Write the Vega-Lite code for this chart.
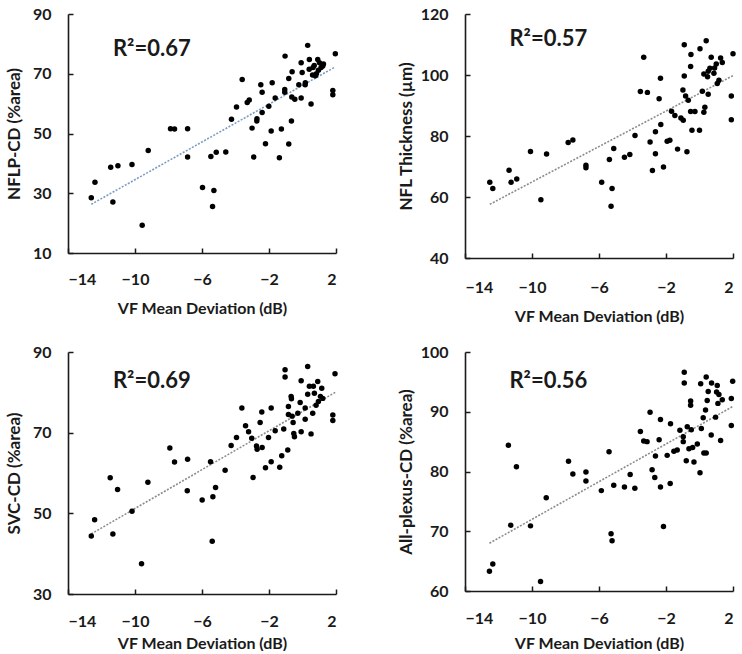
{
  "$schema": "https://vega.github.io/schema/vega-lite/v6.json",
  "background": "white",
  "padding": {"left": 5, "top": 6, "right": 2, "bottom": 0},
  "align": "each",
  "spacing": {"column": 57, "row": 20},
  "columns": 2,
  "config": {
    "view": {"stroke": null},
    "axis": {
      "grid": false,
      "domainColor": "#1a1a1a",
      "domainWidth": 1.6,
      "tickColor": "#1a1a1a",
      "tickWidth": 1.5,
      "tickSize": -5,
      "labelFont": "Lato",
      "labelFontWeight": "bold",
      "labelFontSize": 16,
      "labelColor": "#1a1a1a",
      "titleFont": "Lato",
      "titleFontWeight": "bold",
      "titleFontSize": 16,
      "titleColor": "#1a1a1a"
    },
    "axisY": {"labelPadding": 22, "titleFontSize": 17}
  },
  "datasets": {
    "p1": [
      {"md": -12.61, "v": 28.5}, {"md": -12.39, "v": 33.7}, {"md": -11.45, "v": 38.7}, {"md": -11.32, "v": 27.1},
      {"md": -11.02, "v": 39.2}, {"md": -10.18, "v": 39.6}, {"md": -9.21, "v": 44.3}, {"md": -9.57, "v": 19.3},
      {"md": -7.88, "v": 51.6}, {"md": -7.64, "v": 51.5}, {"md": -6.86, "v": 51.6}, {"md": -6.86, "v": 42.1},
      {"md": -5.97, "v": 31.9}, {"md": -5.47, "v": 42.3}, {"md": -5.29, "v": 30.9}, {"md": -5.37, "v": 25.6},
      {"md": -5.15, "v": 43.7}, {"md": -4.58, "v": 43.8}, {"md": -4.24, "v": 54.8}, {"md": -3.94, "v": 58.9},
      {"md": -3.6, "v": 68.1}, {"md": -3.3, "v": 60.4}, {"md": -3.18, "v": 61.2}, {"md": -3.01, "v": 51.8},
      {"md": -2.91, "v": 42.1}, {"md": -2.73, "v": 54.2}, {"md": -2.72, "v": 54.9}, {"md": -2.49, "v": 66.3},
      {"md": -2.41, "v": 63.8}, {"md": -2.41, "v": 57.0}, {"md": -2.21, "v": 46.6}, {"md": -2.01, "v": 59.1},
      {"md": -1.87, "v": 50.8}, {"md": -1.81, "v": 67.0}, {"md": -1.63, "v": 61.9}, {"md": -1.38, "v": 41.9},
      {"md": -1.26, "v": 51.5}, {"md": -1.04, "v": 75.9}, {"md": -1.06, "v": 64.7}, {"md": -1.06, "v": 63.8},
      {"md": -0.82, "v": 68.4}, {"md": -0.82, "v": 46.5}, {"md": -0.66, "v": 54.2}, {"md": -0.62, "v": 70.7},
      {"md": -0.64, "v": 62.2}, {"md": -0.46, "v": 61.5}, {"md": -0.22, "v": 66.3}, {"md": -0.08, "v": 73.7},
      {"md": -0.08, "v": 61.9}, {"md": -0.02, "v": 70.4}, {"md": 0.16, "v": 66.3}, {"md": 0.17, "v": 67.0},
      {"md": 0.31, "v": 79.5}, {"md": 0.41, "v": 74.8}, {"md": 0.51, "v": 59.9}, {"md": 0.63, "v": 72.1},
      {"md": 0.83, "v": 70.0}, {"md": 0.91, "v": 74.8}, {"md": 1.01, "v": 73.7}, {"md": 1.11, "v": 72.1},
      {"md": 1.21, "v": 72.6}, {"md": 0.77, "v": 69.3}, {"md": 1.81, "v": 64.4}, {"md": 1.81, "v": 63.0},
      {"md": 1.96, "v": 76.7}, {"md": 0.4, "v": 71.5}, {"md": 0.7, "v": 72.8}, {"md": 0.95, "v": 71.2},
      {"md": 0.6, "v": 69.6}, {"md": 1.25, "v": 73.3}
    ],
    "p2": [
      {"md": -12.52, "v": 64.8}, {"md": -12.34, "v": 62.8}, {"md": -11.37, "v": 68.8}, {"md": -11.25, "v": 64.8},
      {"md": -10.91, "v": 65.9}, {"md": -10.09, "v": 74.9}, {"md": -9.47, "v": 59.1}, {"md": -9.13, "v": 74.1},
      {"md": -7.84, "v": 77.9}, {"md": -7.56, "v": 78.7}, {"md": -6.78, "v": 70.4}, {"md": -6.78, "v": 69.6},
      {"md": -5.84, "v": 64.8}, {"md": -5.38, "v": 72.3}, {"md": -5.22, "v": 62.8}, {"md": -5.28, "v": 57.0},
      {"md": -5.12, "v": 75.9}, {"md": -4.48, "v": 73.0}, {"md": -4.16, "v": 73.9}, {"md": -3.85, "v": 80.2},
      {"md": -3.53, "v": 94.6}, {"md": -3.33, "v": 105.8}, {"md": -3.11, "v": 94.3}, {"md": -2.95, "v": 78.0},
      {"md": -2.81, "v": 68.7}, {"md": -2.63, "v": 81.4}, {"md": -2.63, "v": 74.2}, {"md": -2.41, "v": 92.2},
      {"md": -2.33, "v": 98.9}, {"md": -2.31, "v": 83.8}, {"md": -2.15, "v": 69.8}, {"md": -1.93, "v": 78.3},
      {"md": -1.77, "v": 78.6}, {"md": -1.67, "v": 88.1}, {"md": -1.47, "v": 86.7}, {"md": -1.31, "v": 75.7},
      {"md": -1.11, "v": 85.9}, {"md": -0.97, "v": 85.2}, {"md": -0.91, "v": 109.9}, {"md": -0.91, "v": 99.7},
      {"md": -0.99, "v": 95.1}, {"md": -0.83, "v": 93.1}, {"md": -0.75, "v": 74.8}, {"md": -0.67, "v": 91.7},
      {"md": -0.53, "v": 88.0}, {"md": -0.51, "v": 106.7}, {"md": -0.53, "v": 102.8}, {"md": -0.45, "v": 81.9},
      {"md": -0.27, "v": 88.0}, {"md": 0.0, "v": 81.9}, {"md": 0.03, "v": 108.6}, {"md": 0.17, "v": 94.7},
      {"md": 0.26, "v": 87.8}, {"md": 0.32, "v": 89.4}, {"md": 0.26, "v": 100.3}, {"md": 0.4, "v": 111.2},
      {"md": 0.52, "v": 101.2}, {"md": 0.52, "v": 93.7}, {"md": 0.62, "v": 102.2}, {"md": 0.7, "v": 105.8},
      {"md": 0.86, "v": 100.6}, {"md": 1.0, "v": 103.6}, {"md": 1.06, "v": 97.2}, {"md": 1.16, "v": 98.3},
      {"md": 1.26, "v": 105.6}, {"md": 1.36, "v": 104.1}, {"md": 0.9, "v": 102.3}, {"md": 1.9, "v": 93.1},
      {"md": 1.9, "v": 85.3}, {"md": 2.0, "v": 107.0}, {"md": 0.48, "v": 99.4}
    ],
    "p3": [
      {"md": -12.61, "v": 44.4}, {"md": -12.41, "v": 48.4}, {"md": -11.48, "v": 58.8}, {"md": -11.32, "v": 44.9},
      {"md": -11.04, "v": 55.9}, {"md": -10.18, "v": 50.5}, {"md": -9.61, "v": 37.5}, {"md": -9.23, "v": 57.7},
      {"md": -7.92, "v": 66.2}, {"md": -7.64, "v": 62.7}, {"md": -6.86, "v": 63.4}, {"md": -6.88, "v": 55.6},
      {"md": -5.99, "v": 53.3}, {"md": -5.49, "v": 62.8}, {"md": -5.35, "v": 54.1}, {"md": -5.19, "v": 56.4},
      {"md": -5.39, "v": 43.1}, {"md": -4.62, "v": 60.7}, {"md": -4.26, "v": 66.8}, {"md": -3.94, "v": 68.8},
      {"md": -3.62, "v": 76.1}, {"md": -3.4, "v": 71.7}, {"md": -3.22, "v": 70.2}, {"md": -3.03, "v": 68.6},
      {"md": -2.95, "v": 58.9}, {"md": -2.75, "v": 66.7}, {"md": -2.71, "v": 65.9}, {"md": -2.53, "v": 72.5},
      {"md": -2.43, "v": 75.1}, {"md": -2.41, "v": 66.3}, {"md": -2.21, "v": 61.3}, {"md": -2.03, "v": 68.8},
      {"md": -1.87, "v": 76.1}, {"md": -1.87, "v": 62.8}, {"md": -1.63, "v": 70.5}, {"md": -1.36, "v": 61.4},
      {"md": -1.24, "v": 64.3}, {"md": -1.04, "v": 85.6}, {"md": -1.04, "v": 83.8}, {"md": -1.12, "v": 70.9},
      {"md": -0.88, "v": 65.7}, {"md": -0.84, "v": 76.5}, {"md": -0.84, "v": 74.5}, {"md": -0.68, "v": 79.0},
      {"md": -0.66, "v": 78.4}, {"md": -0.62, "v": 74.1}, {"md": -0.56, "v": 72.5}, {"md": -0.52, "v": 69.8},
      {"md": -0.48, "v": 69.0}, {"md": -0.28, "v": 74.8}, {"md": -0.14, "v": 77.5}, {"md": -0.08, "v": 82.9},
      {"md": -0.08, "v": 70.2}, {"md": 0.16, "v": 76.1}, {"md": 0.16, "v": 73.3}, {"md": 0.31, "v": 86.4},
      {"md": 0.31, "v": 79.5}, {"md": 0.41, "v": 81.5}, {"md": 0.51, "v": 69.7}, {"md": 0.61, "v": 74.8},
      {"md": 0.65, "v": 81.5}, {"md": 0.81, "v": 76.8}, {"md": 0.91, "v": 82.7}, {"md": 0.95, "v": 77.7},
      {"md": 1.07, "v": 79.0}, {"md": 1.15, "v": 81.0}, {"md": 1.21, "v": 78.5}, {"md": 0.71, "v": 79.8},
      {"md": 1.81, "v": 74.4}, {"md": 1.81, "v": 73.0}, {"md": 1.94, "v": 84.6}
    ],
    "p4": [
      {"md": -12.54, "v": 63.3}, {"md": -12.34, "v": 64.5}, {"md": -11.41, "v": 84.4}, {"md": -11.27, "v": 71.0},
      {"md": -10.93, "v": 80.8}, {"md": -10.09, "v": 70.9}, {"md": -9.49, "v": 61.6}, {"md": -9.15, "v": 75.6},
      {"md": -7.82, "v": 81.7}, {"md": -7.56, "v": 79.6}, {"md": -6.78, "v": 79.9}, {"md": -6.78, "v": 78.4},
      {"md": -5.86, "v": 76.8}, {"md": -5.4, "v": 83.3}, {"md": -5.28, "v": 69.6}, {"md": -5.22, "v": 68.4},
      {"md": -5.12, "v": 77.7}, {"md": -4.48, "v": 77.4}, {"md": -4.14, "v": 79.5}, {"md": -3.86, "v": 77.2},
      {"md": -3.53, "v": 86.7}, {"md": -3.33, "v": 85.1}, {"md": -3.13, "v": 85.0}, {"md": -2.95, "v": 89.9},
      {"md": -2.83, "v": 80.3}, {"md": -2.67, "v": 79.0}, {"md": -2.63, "v": 82.6}, {"md": -2.41, "v": 85.3},
      {"md": -2.33, "v": 88.7}, {"md": -2.33, "v": 77.4}, {"md": -2.15, "v": 70.8}, {"md": -1.93, "v": 82.7},
      {"md": -1.73, "v": 88.0}, {"md": -1.75, "v": 78.0}, {"md": -1.53, "v": 83.4}, {"md": -1.33, "v": 83.6},
      {"md": -1.17, "v": 86.9}, {"md": -0.97, "v": 85.8}, {"md": -0.97, "v": 85.0}, {"md": -0.91, "v": 96.6},
      {"md": -0.91, "v": 94.8}, {"md": -0.79, "v": 81.8}, {"md": -0.73, "v": 87.5}, {"md": -0.63, "v": 83.8},
      {"md": -0.53, "v": 91.8}, {"md": -0.53, "v": 91.1}, {"md": -0.49, "v": 87.0}, {"md": -0.41, "v": 84.0},
      {"md": -0.33, "v": 81.6}, {"md": -0.13, "v": 84.6}, {"md": 0.03, "v": 79.8}, {"md": 0.07, "v": 94.7},
      {"md": 0.11, "v": 87.2}, {"md": 0.22, "v": 89.0}, {"md": 0.26, "v": 83.1}, {"md": 0.36, "v": 90.3},
      {"md": 0.4, "v": 95.8}, {"md": 0.4, "v": 83.1}, {"md": 0.46, "v": 91.9}, {"md": 0.52, "v": 93.4},
      {"md": 0.7, "v": 86.1}, {"md": 0.72, "v": 94.8}, {"md": 0.96, "v": 89.1}, {"md": 1.06, "v": 94.4},
      {"md": 1.1, "v": 91.4}, {"md": 1.16, "v": 92.9}, {"md": 1.26, "v": 85.2}, {"md": 1.36, "v": 92.0},
      {"md": 1.02, "v": 93.3}, {"md": 1.9, "v": 92.2}, {"md": 1.9, "v": 87.7}, {"md": 1.98, "v": 95.1}
    ],
    "t1": [{"md": -12.61, "v": 26.3}, {"md": 1.96, "v": 72.3}],
    "t2": [{"md": -12.52, "v": 57.6}, {"md": 2.0, "v": 99.8}],
    "t3": [{"md": -12.61, "v": 44.9}, {"md": 2.0, "v": 80.1}],
    "t4": [{"md": -12.54, "v": 68.0}, {"md": 2.0, "v": 90.9}],
    "r1": [{"md": -11.32, "v": 75.9, "label": "R²=0.67"}],
    "r2": [{"md": -11.35, "v": 109.4, "label": "R²=0.57"}],
    "r3": [{"md": -11.32, "v": 81.0, "label": "R²=0.69"}],
    "r4": [{"md": -11.35, "v": 93.9, "label": "R²=0.56"}]
  },
  "concat": [
    {
      "width": 268, "height": 239,
      "layer": [
        {"data": {"name": "t1"}, "mark": {"type": "line", "color": "#7b9cc4", "strokeDash": [2, 1.5], "strokeWidth": 1.6},
         "encoding": {"x": {"field": "md", "type": "quantitative"}, "y": {"field": "v", "type": "quantitative"}}},
        {"data": {"name": "p1"}, "mark": {"type": "circle", "color": "black", "opacity": 1, "size": 30},
         "encoding": {
           "x": {"field": "md", "type": "quantitative", "scale": {"domain": [-14, 2], "nice": false}, "axis": {"values": [-14, -10, -6, -2, 2], "title": "VF Mean Deviation (dB)", "labelPadding": 23, "titlePadding": 13}},
           "y": {"field": "v", "type": "quantitative", "scale": {"domain": [10, 90], "nice": false, "zero": false}, "axis": {"values": [10, 30, 50, 70, 90], "title": "NFLP-CD (%area)", "titlePadding": 9}}}},
        {"data": {"name": "r1"}, "mark": {"type": "text", "align": "left", "baseline": "alphabetic", "font": "Lato", "fontSize": 22, "fontWeight": "bold", "color": "#1a1a1a"},
         "encoding": {"x": {"field": "md", "type": "quantitative"}, "y": {"field": "v", "type": "quantitative"}, "text": {"field": "label"}}}
      ]
    },
    {
      "width": 268, "height": 244,
      "layer": [
        {"data": {"name": "t2"}, "mark": {"type": "line", "color": "#8c8c8c", "strokeDash": [2, 1.5], "strokeWidth": 1.6},
         "encoding": {"x": {"field": "md", "type": "quantitative"}, "y": {"field": "v", "type": "quantitative"}}},
        {"data": {"name": "p2"}, "mark": {"type": "circle", "color": "black", "opacity": 1, "size": 30},
         "encoding": {
           "x": {"field": "md", "type": "quantitative", "scale": {"domain": [-14, 2], "nice": false}, "axis": {"values": [-14, -10, -6, -2, 2], "title": "VF Mean Deviation (dB)", "labelPadding": 26, "titlePadding": 13}},
           "y": {"field": "v", "type": "quantitative", "scale": {"domain": [40, 120], "nice": false, "zero": false}, "axis": {"values": [40, 60, 80, 100, 120], "title": "NFL Thickness (µm)", "titlePadding": 5}}}},
        {"data": {"name": "r2"}, "mark": {"type": "text", "align": "left", "baseline": "alphabetic", "font": "Lato", "fontSize": 22, "fontWeight": "bold", "color": "#1a1a1a"},
         "encoding": {"x": {"field": "md", "type": "quantitative"}, "y": {"field": "v", "type": "quantitative"}, "text": {"field": "label"}}}
      ]
    },
    {
      "width": 268, "height": 242,
      "layer": [
        {"data": {"name": "t3"}, "mark": {"type": "line", "color": "#8c8c8c", "strokeDash": [2, 1.5], "strokeWidth": 1.6},
         "encoding": {"x": {"field": "md", "type": "quantitative"}, "y": {"field": "v", "type": "quantitative"}}},
        {"data": {"name": "p3"}, "mark": {"type": "circle", "color": "black", "opacity": 1, "size": 30},
         "encoding": {
           "x": {"field": "md", "type": "quantitative", "scale": {"domain": [-14, 2], "nice": false}, "axis": {"values": [-14, -10, -6, -2, 2], "title": "VF Mean Deviation (dB)", "labelPadding": 24, "titlePadding": 6}},
           "y": {"field": "v", "type": "quantitative", "scale": {"domain": [30, 90], "nice": false, "zero": false}, "axis": {"values": [30, 50, 70, 90], "title": "SVC-CD (%area)", "titlePadding": 9}}}},
        {"data": {"name": "r3"}, "mark": {"type": "text", "align": "left", "baseline": "alphabetic", "font": "Lato", "fontSize": 22, "fontWeight": "bold", "color": "#1a1a1a"},
         "encoding": {"x": {"field": "md", "type": "quantitative"}, "y": {"field": "v", "type": "quantitative"}, "text": {"field": "label"}}}
      ]
    },
    {
      "width": 268, "height": 239,
      "layer": [
        {"data": {"name": "t4"}, "mark": {"type": "line", "color": "#8c8c8c", "strokeDash": [2, 1.5], "strokeWidth": 1.6},
         "encoding": {"x": {"field": "md", "type": "quantitative"}, "y": {"field": "v", "type": "quantitative"}}},
        {"data": {"name": "p4"}, "mark": {"type": "circle", "color": "black", "opacity": 1, "size": 30},
         "encoding": {
           "x": {"field": "md", "type": "quantitative", "scale": {"domain": [-14, 2], "nice": false}, "axis": {"values": [-14, -10, -6, -2, 2], "title": "VF Mean Deviation (dB)", "labelPadding": 24, "titlePadding": 9}},
           "y": {"field": "v", "type": "quantitative", "scale": {"domain": [60, 100], "nice": false, "zero": false}, "axis": {"values": [60, 70, 80, 90, 100], "title": "All-plexus-CD (%area)", "titlePadding": 5}}}},
        {"data": {"name": "r4"}, "mark": {"type": "text", "align": "left", "baseline": "alphabetic", "font": "Lato", "fontSize": 22, "fontWeight": "bold", "color": "#1a1a1a"},
         "encoding": {"x": {"field": "md", "type": "quantitative"}, "y": {"field": "v", "type": "quantitative"}, "text": {"field": "label"}}}
      ]
    }
  ]
}
